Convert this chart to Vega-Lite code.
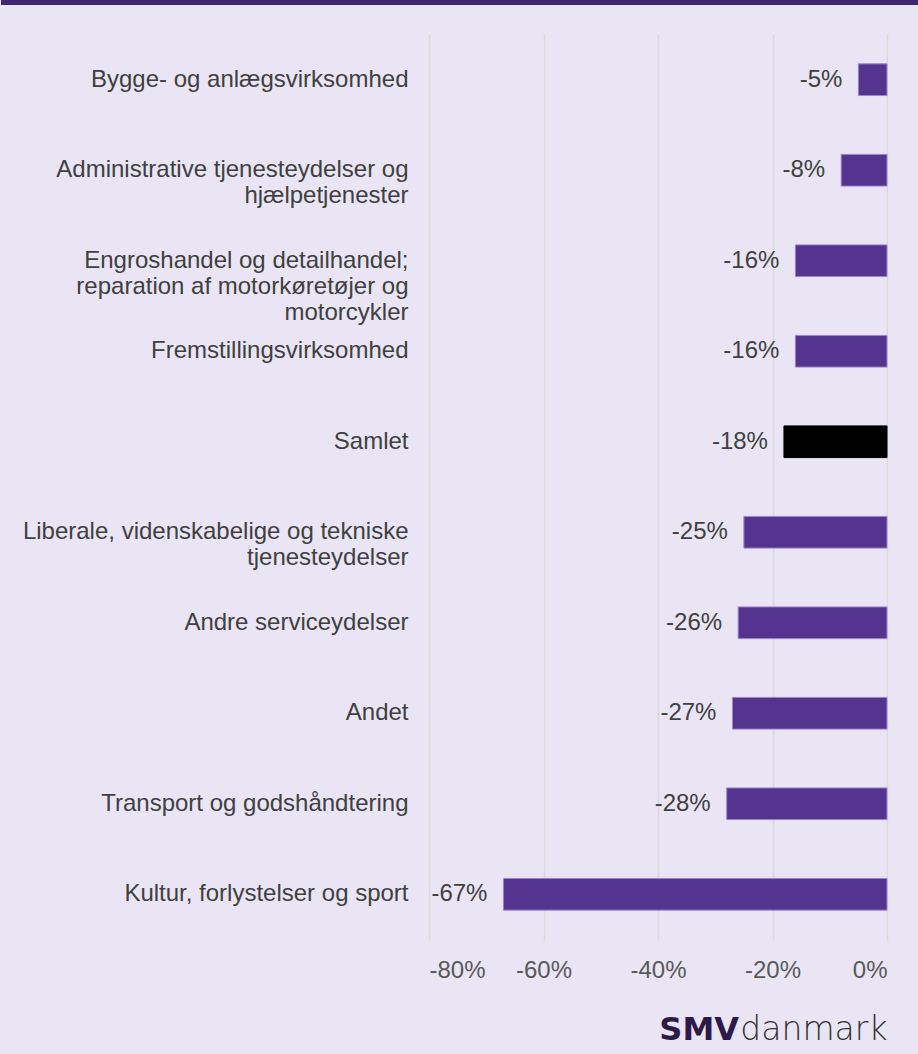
{
  "$schema": "https://vega.github.io/schema/vega-lite/v6.json",
  "background": "#e9e5f4",
  "padding": {"left": 0, "top": 0, "right": 0, "bottom": 12},
  "spacing": 29,
  "config": {
    "view": {"stroke": null},
    "font": "Liberation Sans",
    "locale": {"number": {"decimal": ".", "thousands": ",", "grouping": [3], "currency": ["$", ""], "minus": "-"}}
  },
  "vconcat": [
    {
      "width": 490,
      "height": 5,
      "data": {"values": [{"start": -0.8735, "end": 1, "top": 0, "bottom": 1}]},
      "mark": {"type": "rect", "color": "#40276f", "clip": false},
      "encoding": {
        "x": {"field": "start", "type": "quantitative", "scale": {"domain": [0, 1], "nice": false, "zero": false}, "axis": null},
        "x2": {"field": "end"},
        "y": {"field": "top", "type": "quantitative", "scale": {"domain": [0, 1], "nice": false}, "axis": null},
        "y2": {"field": "bottom"}
      }
    },
    {
      "width": 458,
      "height": 906,
      "title": {"text": "SMV", "orient": "bottom", "anchor": "end", "frame": "group", "fontSize": 32, "font": "DejaVu Sans", "fontWeight": "bold", "color": "#2d1a4a", "baseline": "top", "offset": -31, "dx": -148},
      "data": {"values": [
        {"category": "Bygge- og anlægsvirksomhed", "value": -0.05, "grp": "sektor"},
        {"category": "Administrative tjenesteydelser og|hjælpetjenester", "value": -0.08, "grp": "sektor"},
        {"category": "Engroshandel og detailhandel;|reparation af motorkøretøjer og|motorcykler", "value": -0.16, "grp": "sektor"},
        {"category": "Fremstillingsvirksomhed", "value": -0.16, "grp": "sektor"},
        {"category": "Samlet", "value": -0.18, "grp": "samlet"},
        {"category": "Liberale, videnskabelige og tekniske|tjenesteydelser", "value": -0.25, "grp": "sektor"},
        {"category": "Andre serviceydelser", "value": -0.26, "grp": "sektor"},
        {"category": "Andet", "value": -0.27, "grp": "sektor"},
        {"category": "Transport og godshåndtering", "value": -0.28, "grp": "sektor"},
        {"category": "Kultur, forlystelser og sport", "value": -0.67, "grp": "sektor"}
      ]},
      "encoding": {
        "y": {
          "field": "category", "type": "nominal", "sort": null,
          "scale": {"paddingInner": 0.65, "paddingOuter": 0.33},
          "axis": {
            "title": null, "domain": false, "ticks": false, "grid": false,
            "labelFontSize": 24, "labelColor": "#404040", "labelPadding": 21,
            "labelLimit": 600, "labelLineHeight": 26,
            "minExtent": 428, "maxExtent": 428,
            "labelExpr": "split(datum.label, '|')"
          }
        },
        "x": {
          "field": "value", "type": "quantitative",
          "scale": {"domain": [-0.8, 0], "nice": false},
          "axis": {
            "title": "danmark", "titleAnchor": "end", "titleAlign": "right", "titleBaseline": "top",
            "titleFont": "DejaVu Sans", "titleFontSize": 33, "titleFontWeight": 200, "titleColor": "#333333", "titlePadding": 31,
            "domain": false, "ticks": false, "grid": true,
            "gridColor": "#d9d9d9", "gridWidth": 1.5,
            "values": [-0.8, -0.6, -0.4, -0.2, 0],
            "labelFontSize": 24, "labelColor": "#595959", "labelPadding": 18,
            "labelExpr": "round(datum.value * 100) + '%'"
          }
        }
      },
      "layer": [
        {
          "mark": {"type": "bar", "strokeWidth": 1},
          "encoding": {
            "fill": {"field": "grp", "type": "nominal", "legend": null, "scale": {"domain": ["sektor", "samlet"], "range": ["#553490", "#000000"]}},
            "stroke": {"field": "grp", "type": "nominal", "legend": null, "scale": {"domain": ["sektor", "samlet"], "range": ["#9c84cf", "#000000"]}}
          }
        },
        {
          "mark": {"type": "text", "align": "right", "baseline": "middle", "dx": -16, "fontSize": 24, "color": "#404040"},
          "encoding": {
            "text": {"field": "value", "type": "quantitative", "format": ".0%"}
          }
        }
      ]
    }
  ]
}
